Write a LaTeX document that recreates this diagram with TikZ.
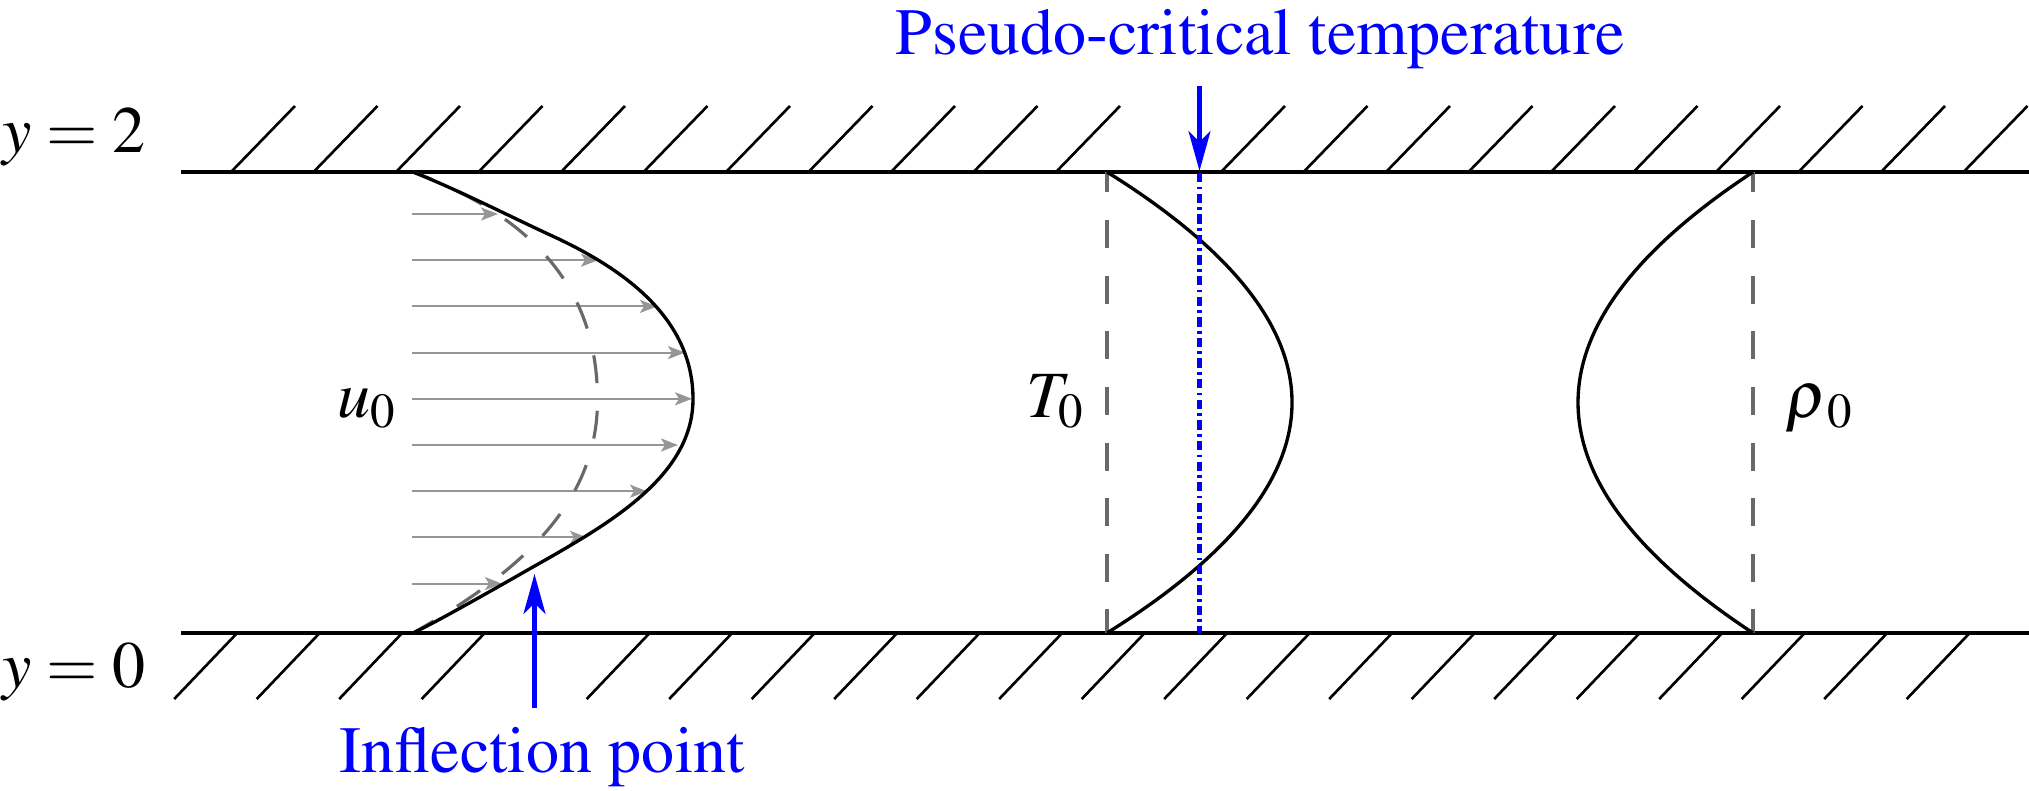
\documentclass[tikz,border=0pt]{standalone}
\usepackage[T1]{fontenc}
\usepackage{mathptmx}
\usetikzlibrary{arrows.meta}
\definecolor{dgray}{RGB}{105,105,105}
\definecolor{agray}{RGB}{150,150,150}
\begin{document}
\begin{tikzpicture}[x=0.01cm,y=-0.01cm,
  wall/.style={line width=0.95pt},
  hatch/.style={line width=0.75pt},
  prof/.style={line width=0.95pt},
  refline/.style={dgray,line width=0.9pt,dash pattern=on 0.28cm off 0.276cm,dash phase=0.076cm},
  garrow/.style={agray,line width=0.6pt,-{Stealth[length=0.17cm,width=0.13cm,inset=0.04cm]}},
  barrow/.style={blue,line width=1.15pt,-{Stealth[length=0.40cm,width=0.22cm,inset=0.11cm]}},
  dashdot/.style={blue,line width=1.2pt,dash pattern=on 0.093cm off 0.043cm on 0.027cm off 0.043cm},
  lbl/.style={inner sep=0pt,font=\fontsize{18.8}{22}\selectfont},
  blbl/.style={lbl,text=blue}]
\useasboundingbox (0,0) rectangle (2029,791);

% walls
\coordinate (TL) at (181,172);
\coordinate (TR) at (2029,172);
\coordinate (BL) at (181,633);
\coordinate (BR) at (2029,633);
\draw[wall] (TL) -- (TR);
\draw[wall] (BL) -- (BR);
\foreach \k in {0,...,10,12,13,...,21}
  \draw[hatch] ({231+82.5*\k},172) -- ++(64,-66);
\foreach \k in {0,...,3,5,6,...,21}
  \draw[hatch] ({237.2+82.5*\k},633) -- ++(-63,66);

% velocity arrows
\foreach \yy/\xx in {214/498,260.2/598,306.4/657,352.6/685,398.8/692,445/678,491.2/647,537.4/587,583.6/502}
  \draw[garrow] (412,\yy) -- (\xx,\yy);

% dashed reference velocity profile
\draw[refline] (413,172) .. controls (535,217.5) and (597.5,290) .. (597.5,400)
  .. controls (597.5,500) and (526,569) .. (413,633);

% velocity profile with inflection points
\draw[prof] (413,172) .. controls (458,190) and (503,213) .. (548,234)
  .. controls (625.4,268.9) and (693,319) .. (693,399)
  .. controls (693,474) and (614,521) .. (540,563)
  .. controls (514,577.7) and (440,620.4) .. (413,633);

% temperature profile
\draw[refline] (1107,172) -- (1107,633);
\draw[prof] (1107,172) .. controls (1353.7,325.7) and (1353.7,479.3) .. (1107,633);
\draw[dashdot] (1199.5,173) -- (1199.5,633);

% density profile
\draw[refline] (1753,172) -- (1753,633);
\draw[prof] (1753,172) .. controls (1519.7,325.7) and (1519.7,479.3) .. (1753,633);

% labels
\node[lbl,anchor=base east] (y2) at (146,152.7) {$y=2$};
\node[lbl,anchor=base east] (y0) at (146,687) {$y=0$};
\node[lbl,anchor=base west] (u0) at (337,418) {$u_0$};
\node[lbl,anchor=base west] (T0) at (1026,418) {$T_0$};
\node[lbl,anchor=base west] (r0) at (1785,418) {$\rho_{\mkern2mu 0}$};

% blue annotations
\node[blbl,anchor=base] (pct) at (1260,55) {Pseudo-critical temperature};
\coordinate (pcs) at (1199.5,86);
\coordinate (pce) at (1199.5,171);
\draw[barrow] (pcs) -- (pce);
\node[blbl,anchor=base] (ipt) at (542,772.7) {Inflection point};
\coordinate (ips) at (534.5,708);
\coordinate (ipe) at (534.5,574);
\draw[barrow] (ips) -- (ipe);
\end{tikzpicture}
\end{document}
